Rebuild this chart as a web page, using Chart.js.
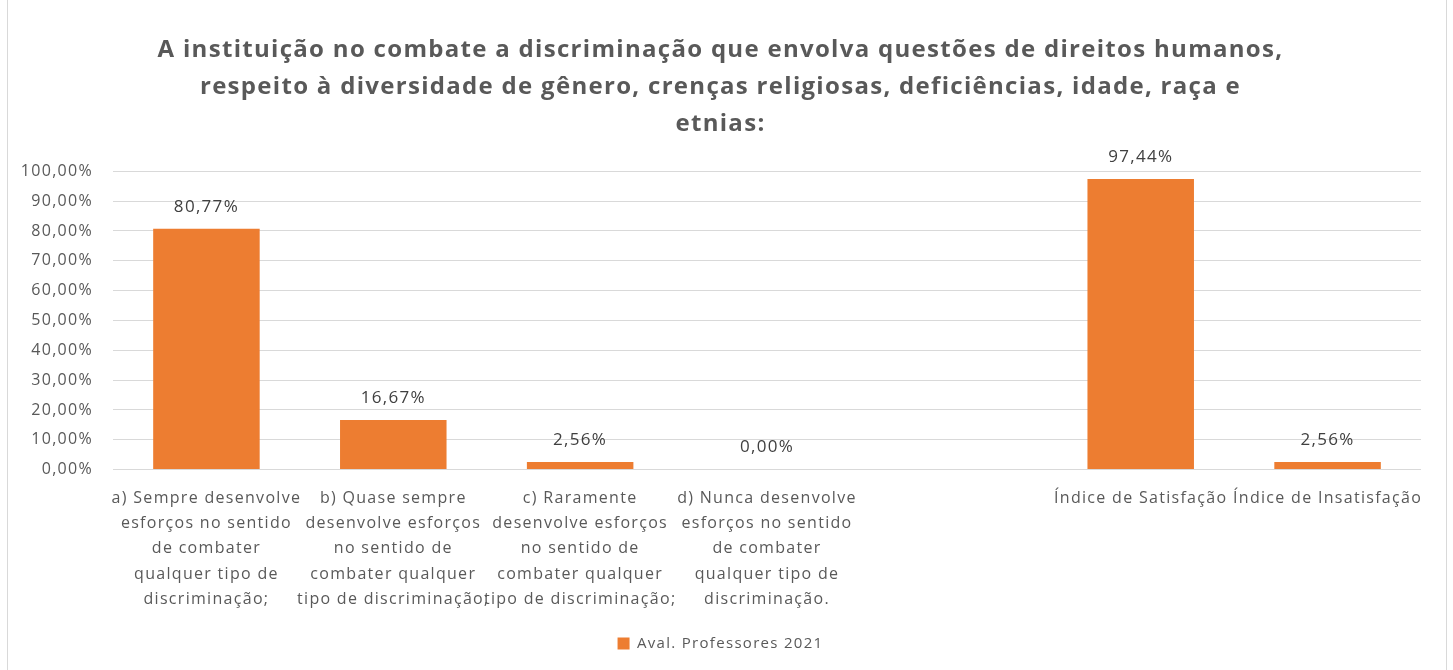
<!DOCTYPE html>
<html>
<head>
<meta charset="utf-8">
<script src="https://cdn.jsdelivr.net/npm/chart.js@4.4.0/dist/chart.umd.min.js"></script>
<style>
  html, body { margin: 0; padding: 0; background: #ffffff; }
  #wrap { position: relative; width: 1453px; height: 670px; overflow: hidden; }
  #frame { position: absolute; left: 7px; top: -1px; width: 1438px; height: 700px; border: 1px solid #d9d9d9; pointer-events: none; }
  canvas { display: block; }
</style>
</head>
<body>
<div id="wrap">
  <canvas id="c" width="1453" height="670"></canvas>
  <div id="frame"></div>
</div>
<script>
const titleLines = [
  "A instituição no combate a discriminação que envolva questões de direitos humanos,",
  "respeito à diversidade de gênero, crenças religiosas, deficiências, idade, raça e",
  "etnias:"
];
const categories = [
  ["a) Sempre desenvolve", "esforços no sentido", "de combater", "qualquer tipo de", "discriminação;"],
  ["b) Quase sempre", "desenvolve esforços", "no sentido de", "combater qualquer", "tipo de discriminação;"],
  ["c) Raramente", "desenvolve esforços", "no sentido de", "combater qualquer", "tipo de discriminação;"],
  ["d) Nunca desenvolve", "esforços no sentido", "de combater", "qualquer tipo de", "discriminação."],
  "",
  "Índice de Satisfação",
  "Índice de Insatisfação"
];
const seriesName = "Aval. Professores 2021";
const values = [80.77, 16.67, 2.56, 0.00, null, 97.44, 2.56];
const yTicks = [0, 10, 20, 30, 40, 50, 60, 70, 80, 90, 100];

const fmt = v => v.toFixed(2).replace('.', ',') + '%';

const spacing = {
  id: 'spacing',
  beforeUpdate(chart) { chart.ctx.letterSpacing = '1.3px'; },
  beforeLayout(chart) { chart.ctx.letterSpacing = '1.3px'; },
  beforeDraw(chart) { chart.ctx.letterSpacing = '1.3px'; }
};

const dataLabels = {
  id: 'dataLabels',
  afterDatasetsDraw(chart) {
    const ctx = chart.ctx;
    const meta = chart.getDatasetMeta(0);
    ctx.save();
    ctx.letterSpacing = '1.3px';
    ctx.font = '17px "Open Sans", sans-serif';
    ctx.fillStyle = '#404040';
    ctx.textAlign = 'center';
    ctx.textBaseline = 'middle';
    meta.data.forEach((el, i) => {
      const v = values[i];
      if (v === null || v === undefined) return;
      ctx.fillText(fmt(v), el.x, el.y - 22);
    });
    ctx.restore();
  }
};

new Chart(document.getElementById('c'), {
  type: 'bar',
  data: {
    labels: categories,
    datasets: [{
      label: seriesName,
      data: values,
      backgroundColor: '#ED7D31',
      borderWidth: 0,
      categoryPercentage: 1,
      barPercentage: 0.57
    }]
  },
  options: {
    responsive: false,
    animation: false,
    devicePixelRatio: 1,
    layout: { padding: { left: 0, right: 12, top: 0, bottom: 9 } },
    plugins: {
      title: {
        display: true,
        text: titleLines,
        color: '#595959',
        font: { family: '"Open Sans", sans-serif', size: 24, weight: 'bold', lineHeight: 1.56 },
        padding: { top: 31, bottom: 28 }
      },
      legend: {
        position: 'bottom',
        labels: {
          color: '#595959',
          font: { family: '"Open Sans", sans-serif', size: 15 },
          boxWidth: 12,
          boxHeight: 12,
          padding: 8
        }
      },
      tooltip: { enabled: false }
    },
    scales: {
      x: {
        grid: { display: false, drawTicks: false },
        border: { display: false },
        ticks: {
          color: '#595959',
          font: { family: '"Open Sans", sans-serif', size: 16, lineHeight: 1.58 },
          autoSkip: false,
          maxRotation: 0,
          minRotation: 0,
          padding: 16
        }
      },
      y: {
        min: 0,
        max: 100,
        afterFit(scale) { scale.width = 113; },
        afterBuildTicks(scale) { scale.ticks = yTicks.map(v => ({ value: v })); },
        grid: { color: '#d9d9d9', lineWidth: 1, drawTicks: false },
        border: { display: false },
        ticks: {
          color: '#595959',
          font: { family: '"Open Sans", sans-serif', size: 16 },
          padding: 20,
          callback: v => fmt(v)
        }
      },
      yRight: {
        position: 'right',
        display: true,
        afterFit(scale) { scale.width = 20; },
        grid: { display: false, drawTicks: false },
        border: { display: false },
        ticks: { display: false }
      }
    }
  },
  plugins: [spacing, dataLabels]
});
</script>
</body>
</html>
